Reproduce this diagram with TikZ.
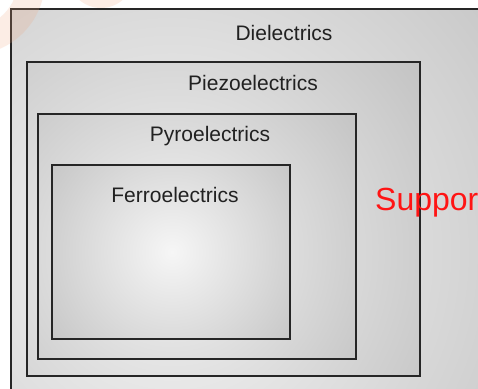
\documentclass[tikz,border=0pt]{standalone}
\usepackage{fontspec}
\setmainfont{Liberation Sans}
\begin{document}
\begin{tikzpicture}[x=1pt,y=-1pt,
  frame/.style={draw=black!85,line width=1.4pt},
  caption/.style={font=\fontsize{21}{25}\selectfont,text=black!87,inner sep=0pt},
  mark watermark/.style={fill={rgb,255:red,240;green,165;blue,125},fill opacity=0.2,draw=none}]
\definecolor{edgegray}{RGB}{194,194,194}
\definecolor{glow}{RGB}{246,246,246}
\useasboundingbox (0,0) rectangle (478,388);
\clip (0,0) rectangle (478,388);
\fill[white] (0,0) rectangle (478,388);

% corner points of the nested frames
\coordinate (dA) at (11,9);   \coordinate (dB) at (520,420);
\coordinate (zA) at (27,62);  \coordinate (zB) at (420,376);
\coordinate (yA) at (38,114); \coordinate (yB) at (356,359);
\coordinate (fA) at (52,165); \coordinate (fB) at (290,339);
\coordinate (hot) at (172,252);

% each frame gets its own soft glow around the same spot
\foreach \a/\b/\r in {dA/dB/460,zA/zB/320,yA/yB/240,fA/fB/165}{
  \begin{scope}
    \clip (\a) rectangle (\b);
    \fill[edgegray] (\a) rectangle (\b);
    \shade[inner color=glow,outer color=edgegray] (hot) circle (\r);
  \end{scope}
  \draw[frame] (\a) rectangle (\b);
}

\node[caption,anchor=base] (diel)  at (284,40)  {Dielectrics};
\node[caption,anchor=base] (piezo) at (253,90)  {Piezoelectrics};
\node[caption,anchor=base] (pyro)  at (210,141) {Pyroelectrics};
\node[caption,anchor=base] (ferro) at (175,202) {Ferroelectrics};
\node[font=\fontsize{32}{38}\selectfont,text={rgb,255:red,255;green,20;blue,20},
      inner sep=0pt,anchor=base west] (supp) at (375,210) {Suppor};

% faint logo marks in the top left corner
\fill[mark watermark,even odd rule] (-30,-20) circle (75) (-30,-20) circle (48);
\fill[mark watermark] (101,-25) circle (33);
\end{tikzpicture}
\end{document}
